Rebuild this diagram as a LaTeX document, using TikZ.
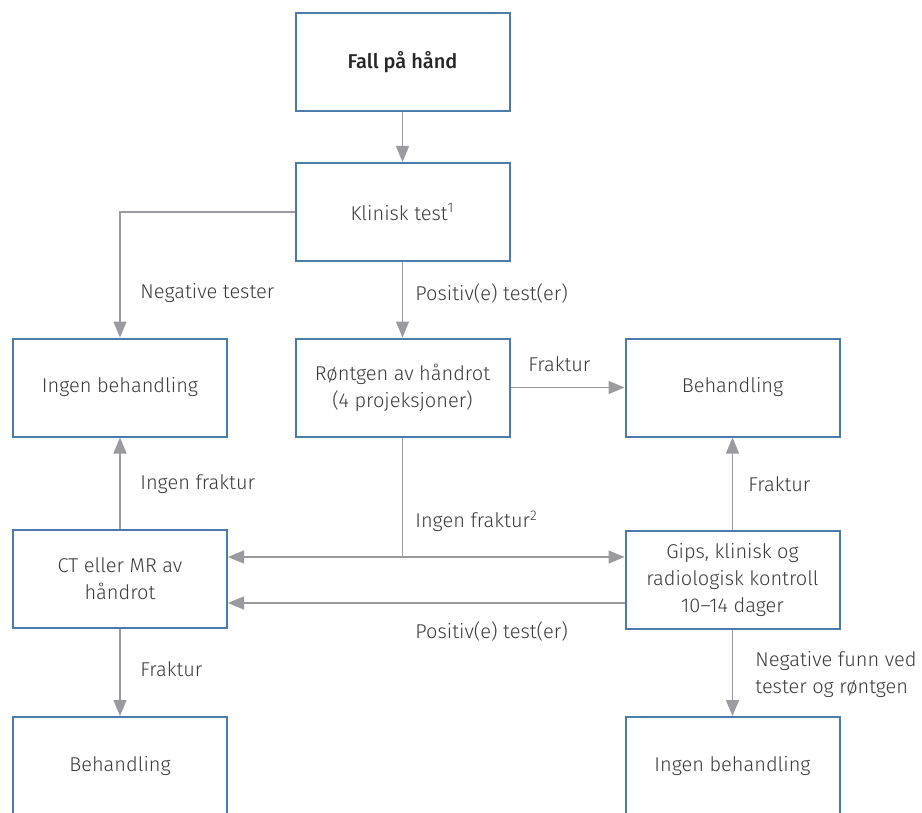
\documentclass[tikz,border=0pt]{standalone}
\usepackage{fontspec}
\setmainfont{Fira Sans}[UprightFont=* Light, BoldFont=* Medium]
\usetikzlibrary{arrows.meta,positioning}
\definecolor{boks}{HTML}{4A7BAD}
\definecolor{pilgraa}{HTML}{9B9B9F}
\definecolor{tekst}{HTML}{3A3A3A}
\tikzset{
  boksen/.style={draw=boks, line width=1pt, minimum width=107pt, minimum height=49pt,
    align=center, text=tekst, font=\fontsize{10}{13.5}\selectfont},
  pil/.style={draw=pilgraa, line width=0.7pt, -{Triangle[length=8pt,width=6.5pt]}},
  linje/.style={draw=pilgraa, line width=0.7pt},
  merke/.style={text=tekst, font=\fontsize{10}{13.5}\selectfont, anchor=west, inner sep=0pt, align=left}
}
\begin{document}
\begin{tikzpicture}[x=0.5pt,y=-0.5pt]
\useasboundingbox (0,0) rectangle (922,813);
\node[boksen, font=\fontsize{10}{13.5}\selectfont\bfseries, text=black!85] (fall) at (402.5,62) {Fall på hånd};
\node[boksen] (klinisk) at (402.5,212) {Klinisk test\textsuperscript{1}};
\node[boksen] (ingen1) at (120,387.5) {Ingen behandling};
\node[boksen] (rontgen) at (402.5,387.5) {Røntgen av håndrot\\(4 projeksjoner)};
\node[boksen] (beh1) at (732.5,387.5) {Behandling};
\node[boksen] (ct) at (120,579) {CT eller MR av\\håndrot};
\node[boksen] (gips) at (732.5,580) {Gips, klinisk og\\radiologisk kontroll\\10–14 dager};
\node[boksen] (beh2) at (120,766) {Behandling};
\node[boksen] (ingen2) at (732.5,766) {Ingen behandling};
\coordinate (delt) at (402.5,557);

\draw[pil] (fall) -- (klinisk);
\draw[pil] (klinisk.west) -| (ingen1.north);
\draw[pil] (klinisk) -- (rontgen);
\draw[pil] (rontgen) -- (beh1);
\draw[linje] (rontgen.south) -- (delt);
\draw[pil] (delt) -- (delt -| ct.east);
\draw[pil] (delt) -- (delt -| gips.west);
\draw[pil] ([yshift=-11.5pt]gips.west) -- ([yshift=-11.5pt]gips.west -| ct.east);
\draw[pil] (ct) -- (ingen1);
\draw[pil] (ct) -- (beh2);
\draw[pil] (gips) -- (beh1);
\draw[pil] (gips) -- (ingen2);

\node[merke] (m1) at (140,293) {Negative tester};
\node[merke] (m2) at (415,293) {Positiv(e) test(er)};
\node[merke] (m3) at (528,364) {Fraktur};
\node[merke] (m4) at (140,484) {Ingen fraktur};
\node[merke] (m5) at (415,521) {Ingen fraktur\textsuperscript{2}};
\node[merke] (m6) at (748,484) {Fraktur};
\node[merke] (m7) at (415,631) {Positiv(e) test(er)};
\node[merke] (m8) at (140,669) {Fraktur};
\node[merke] (m9) at (755,675) {Negative funn ved\\tester og røntgen};
\end{tikzpicture}
\end{document}
